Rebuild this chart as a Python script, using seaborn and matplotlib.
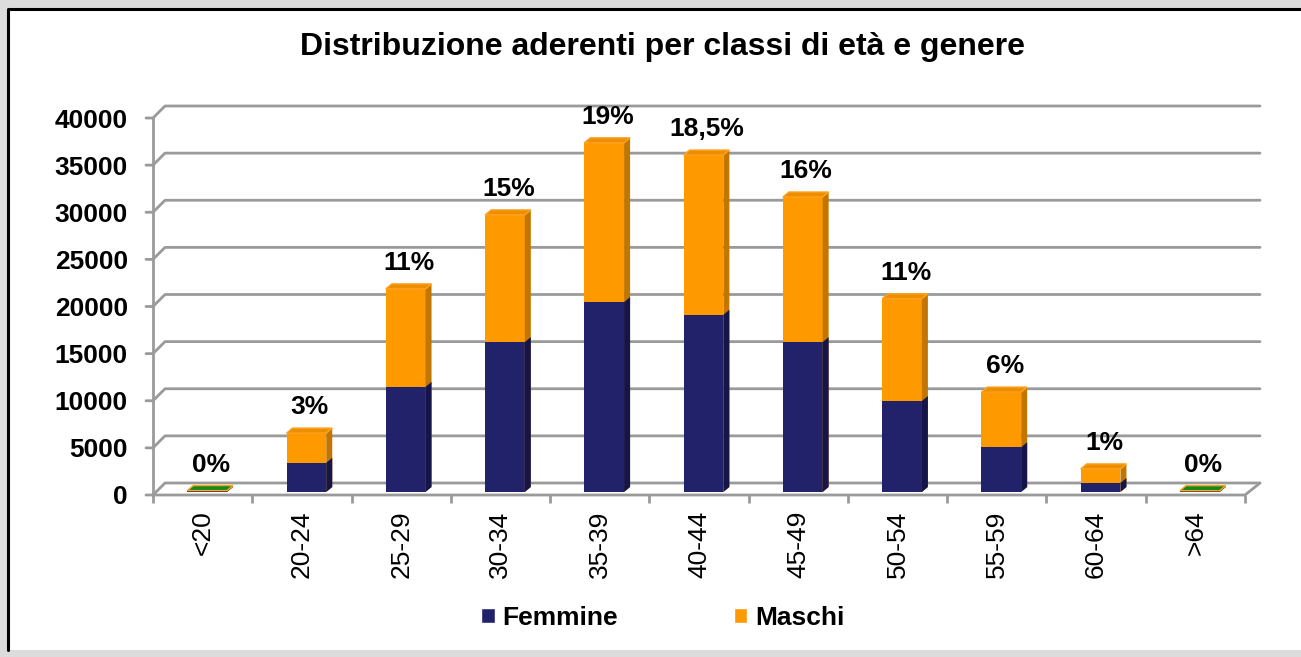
import numpy as np
import pandas as pd
import seaborn as sns
import matplotlib.pyplot as plt
from matplotlib.patches import Polygon, Rectangle, Patch
from matplotlib.lines import Line2D
from matplotlib.transforms import ScaledTranslation, IdentityTransform

# --- dati ---
classi = ['<20', '20-24', '25-29', '30-34', '35-39', '40-44',
          '45-49', '50-54', '55-59', '60-64', '>64']
femmine = [80, 3100, 11150, 15900, 20150, 18800, 15900, 9650, 4750, 950, 80]
maschi = [70, 3150, 10400, 13500, 16900, 16950, 15400, 10850, 5850, 1500, 60]
percentuali = ['0%', '3%', '11%', '15%', '19%', '18,5%', '16%', '11%', '6%', '1%', '0%']
y_ticks = [0, 5000, 10000, 15000, 20000, 25000, 30000, 35000, 40000]

NAVY = '#22226a'
ORANGE = '#ff9900'
GRID = '#9a9a9a'

df = pd.DataFrame({'classe': classi, 'Femmine': femmine, 'Maschi': maschi})
df['Totale'] = df['Femmine'] + df['Maschi']

sns.set_theme(style='white')
plt.rcParams['font.family'] = ['Liberation Sans', 'DejaVu Sans']
plt.rcParams['text.color'] = 'black'
plt.rcParams['xtick.color'] = 'black'
plt.rcParams['ytick.color'] = 'black'

W, H = 1301, 657
fig = plt.figure(figsize=(W / 100, H / 100), dpi=100)
fig.patch.set_facecolor('#dcdcdc')

# pannello bianco con bordo
fig.patches.append(Rectangle((8, 7), W, H - 16, transform=IdentityTransform(),
                             facecolor='white', edgecolor='none', zorder=-2))
fig.lines.append(Line2D([8, 8, W], [7, H - 9, H - 9], transform=IdentityTransform(),
                        color='black', lw=2.2, zorder=-1))

ax = fig.add_axes([153 / W, (H - 495) / H, (1245 - 153) / W, (495 - 118) / H])
ax.set_facecolor('none')
ax.set_zorder(1)

# barre impilate: totale (maschi) sotto, femmine sopra
sns.barplot(data=df, x='classe', y='Totale', order=classi, color=ORANGE,
            width=0.4, saturation=1, ax=ax, zorder=3)
sns.barplot(data=df, x='classe', y='Femmine', order=classi, color=NAVY,
            width=0.4, saturation=1, ax=ax, zorder=3)

ax.set_xlim(-0.5, len(classi) - 0.5)
ax.set_ylim(0, 40000)
ax.set_xlabel('')
ax.set_ylabel('')

# profondità delle barre (effetto 3D)
bar_shift = ScaledTranslation(0.045, 0.03, fig.dpi_scale_trans)
for p in ax.patches:
    p.set_transform(ax.transData + bar_shift)
    p.set_edgecolor('none')

n = len(classi)
tot_bars = ax.patches[:n]
fem_bars = ax.patches[n:2 * n]
dx, dy = 6, 5
trans = ax.transData + bar_shift


def face(pts, fc, ec='none', z=4):
    fig.patches.append(Polygon(pts, closed=True, transform=IdentityTransform(),
                               facecolor=fc, edgecolor=ec, lw=1, zorder=z))


for i, (pt, pf) in enumerate(zip(tot_bars, fem_bars)):
    x0, y0 = trans.transform((pt.get_x(), 0))
    x1, yt = trans.transform((pt.get_x() + pt.get_width(), pt.get_height()))
    _, yf = trans.transform((pf.get_x(), pf.get_height()))
    # lato
    face([(x1, y0), (x1 + dx, y0 + dy), (x1 + dx, yt + dy), (x1, yt)], '#c27600', z=3)
    face([(x1, y0), (x1 + dx, y0 + dy), (x1 + dx, yf + dy), (x1, yf)], '#15154a', z=3.1)
    # tetto
    top_c = '#148a14' if df['Totale'][i] < 400 else '#ec8e00'
    face([(x0, yt), (x0 + dx, yt + dy), (x1 + dx, yt + dy), (x1, yt)], top_c,
         ec='#ffa21f', z=3.2)

# etichette percentuali
for i, lab in enumerate(percentuali):
    ax.annotate(lab, (i, df['Totale'][i]), xytext=(8, 29),
                textcoords='offset pixels', ha='center', va='center',
                fontsize=19, fontweight='bold', color='black',
                annotation_clip=False, zorder=6)

# griglia sulla parete di fondo con raccordi diagonali
gdx, gdy = 12, 12
xl = ax.transData.transform((-0.5, 0))[0]
xr = ax.transData.transform((len(classi) - 0.5, 0))[0]
for v in y_ticks:
    yv = ax.transData.transform((0, v))[1]
    fig.lines.append(Line2D([xl - 7, xl, xl + gdx, xr + gdx + 3],
                            [yv, yv, yv + gdy, yv + gdy],
                            transform=IdentityTransform(), color=GRID, lw=2, zorder=0))
y_zero = ax.transData.transform((0, 0))[1]
fig.lines.append(Line2D([xl, xl], [y_zero, ax.transData.transform((0, 40000))[1]],
                        transform=IdentityTransform(), color=GRID, lw=2, zorder=0))
fig.lines.append(Line2D([xl, xr, xr + gdx + 3], [y_zero, y_zero, y_zero + gdy],
                        transform=IdentityTransform(), color=GRID, lw=2, zorder=0))

for s in ax.spines.values():
    s.set_visible(False)

ax.set_yticks(y_ticks)
ax.set_yticklabels([str(v) for v in y_ticks], fontsize=19, fontweight='bold')
ax.tick_params(axis='y', length=0, pad=18)

ax.set_xticks(range(n))
ax.set_xticklabels(classi, rotation=90, fontsize=19, va='top', ha='center')
ax.set_xticks(np.arange(-0.5, n, 1), minor=True)
ax.tick_params(axis='x', which='major', length=0, pad=11)
ax.tick_params(axis='x', which='minor', bottom=True, length=6, width=2,
               color=GRID, direction='out')

fig.text(662 / W, 1 - 47 / H, 'Distribuzione aderenti per classi di età e genere',
         ha='center', va='center', fontsize=23, fontweight='bold')

handles = [Patch(facecolor=NAVY, label='Femmine'), Patch(facecolor=ORANGE, label='Maschi')]
fig.legend(handles=handles, loc='center', bbox_to_anchor=(663 / W, 1 - 618 / H),
           ncol=2, frameon=False, prop={'size': 19, 'weight': 'bold'},
           handlelength=0.5, handleheight=0.5, handletextpad=0.3, columnspacing=4.4)

fig.savefig('out.png', dpi=100, facecolor=fig.get_facecolor())
